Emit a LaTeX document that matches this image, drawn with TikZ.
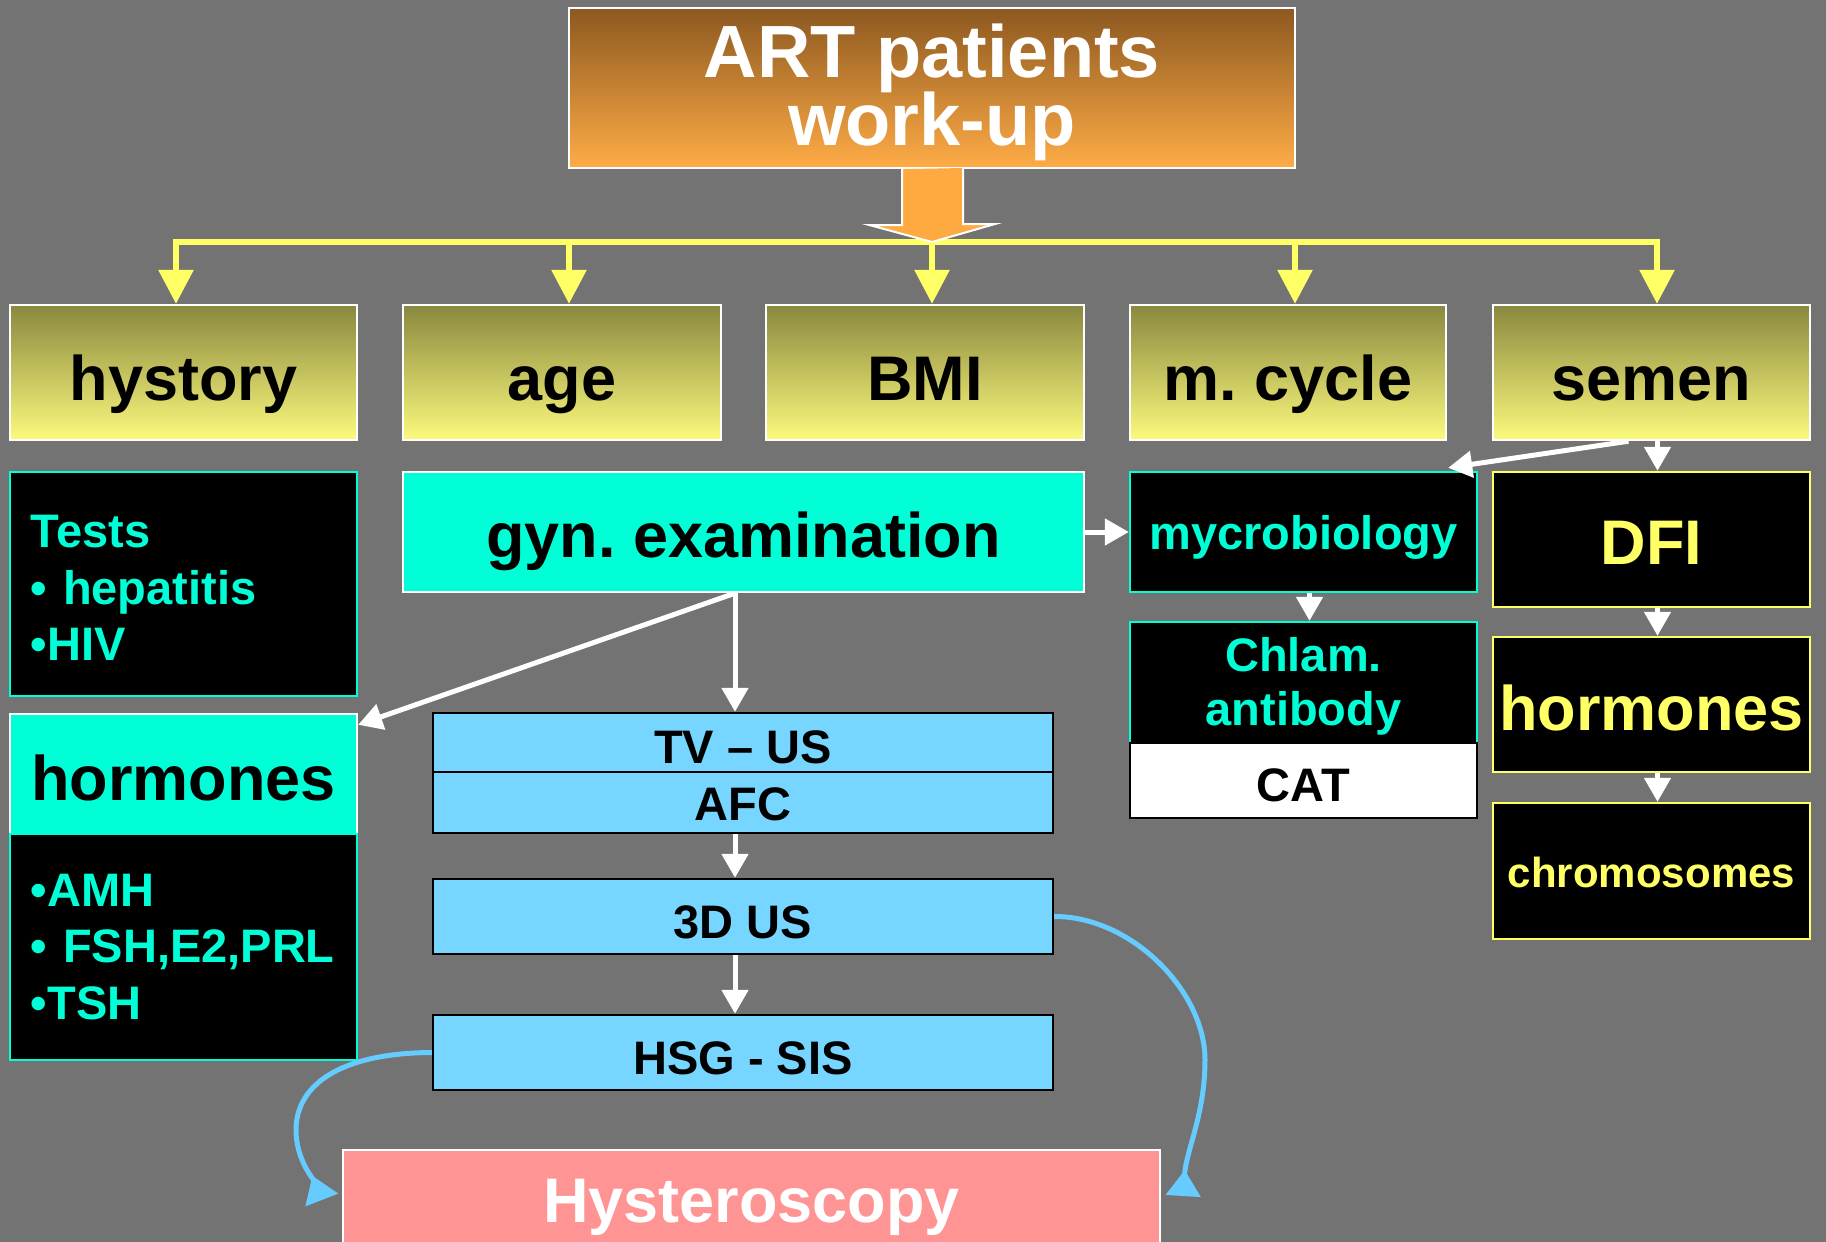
\documentclass[tikz,border=0pt]{standalone}
\usepackage{fontspec}
\setmainfont{Liberation Sans}
\usetikzlibrary{arrows.meta,calc}
\definecolor{bg}{RGB}{115,115,115}
\definecolor{obrown}{RGB}{140,88,32}
\definecolor{oorange}{RGB}{255,172,70}
\definecolor{oarrow}{RGB}{255,170,64}
\definecolor{yolive}{RGB}{138,136,62}
\definecolor{ylight}{RGB}{252,250,125}
\definecolor{yel}{RGB}{255,255,102}
\definecolor{cyanc}{RGB}{0,255,214}
\definecolor{lblue}{RGB}{119,214,255}
\definecolor{pinkc}{RGB}{255,148,148}
\definecolor{cblue}{RGB}{102,204,255}
\newcommand\myfbig{\fontsize{31.5}{36}\selectfont\bfseries\frenchspacing}
\newcommand\myfmed{\fontsize{23.5}{28.25}\selectfont\bfseries\frenchspacing}
\newcommand\myftop{\fontsize{37}{33.75}\selectfont\bfseries\lineskiplimit=-30pt\relax}
\tikzset{
  box/.style={rectangle, inner sep=0pt, line width=1.2pt},
  sz/.style 2 args={minimum width=#1*0.5pt, minimum height=#2*0.5pt},
  th/.style={text height=#1, text depth=0pt},
  topbox/.style={box, draw=white, top color=obrown, bottom color=oorange, text=white, align=center, font=\myftop},
  ybox/.style={box, draw=white, top color=yolive, bottom color=ylight, text=black, font=\myfbig},
  cbox/.style={box, draw=white, fill=cyanc, text=black, font=\myfbig},
  kcbox/.style={box, draw=cyanc, fill=black, text=cyanc, font=\myfmed},
  kybox/.style={box, draw=yel, fill=black, text=yel, font=\myfbig},
  bbox/.style={box, draw=black, fill=lblue, text=black, font=\myfmed},
  wlink/.style={draw=white, line width=2.5pt, -{Triangle[width=13pt,length=12pt]}},
  ylink/.style={draw=yel, line width=3pt, -{Triangle[width=17pt,length=17pt]}},
  blink/.style={draw=cblue, line width=2.5pt, -{Triangle[reversed,width=17pt,length=13pt]}}
}
\begin{document}
\frenchspacing
\begin{tikzpicture}[x=0.5pt,y=-0.5pt]
\clip (0,0) rectangle (1826,1242);
\useasboundingbox (0,0) rectangle (1826,1242);
\fill[bg] (0,0) rectangle (1826,1242);

% top
\node[topbox, sz={726}{160}] (top) at (932,88) {\rule{0pt}{31pt}ART patients\\work-up};

% yellow row
\node[ybox, sz={347}{135}, th=27.5pt] (hist) at (183.5,372.5) {hystory};
\node[ybox, sz={318}{135}, th=27.5pt] (age) at (562,372.5) {age};
\node[ybox, sz={318}{135}, th=27.5pt] (bmi) at (925,372.5) {BMI};
\node[ybox, sz={316}{135}, th=27.5pt] (cyc) at (1288,372.5) {m. cycle};
\node[ybox, sz={317}{135}, th=27.5pt] (sem) at (1651.5,372.5) {semen};

% left column
\node[kcbox, sz={347}{224}, align=left, text width=152.5pt] (tests) at (183.5,584) {\rule{0pt}{20pt}Tests\\• hepatitis\\•HIV};
\node[cbox, sz={347}{120}, th=26pt] (horml) at (183.5,774) {hormones};
\node[kcbox, sz={347}{226}, align=left, text width=152.5pt] (hlist) at (183.5,947) {•AMH\\• FSH,E2,PRL\\•TSH};

% middle
\node[cbox, sz={681}{120}, th=25pt] (gyn) at (743.5,532) {gyn. examination};
\node[bbox, sz={620}{59}, th=21pt] (tv) at (743,742.5) {TV – US};
\node[bbox, sz={620}{61}, th=18pt] (afc) at (743,802.5) {AFC};
\node[bbox, sz={620}{75}, th=21.5pt] (us3d) at (743,916.5) {3D US};
\node[bbox, sz={620}{75}, th=21.5pt] (hsg) at (743,1052.5) {HSG - SIS};
\node[box, draw=white, fill=pinkc, text=white, font=\myfbig, sz={817}{110}, th=17pt] (hyst) at (751.5,1205) {Hysteroscopy};

% right middle
\node[kcbox, sz={347}{120}, th=17pt] (myc) at (1303.5,532) {mycrobiology};
\node[kcbox, sz={347}{121}, align=center, font=\fontsize{23.5}{27}\selectfont\bfseries] (chl) at (1303.5,682.5) {\rule{0pt}{20.6pt}Chlam.\\antibody};
\node[box, draw=black, fill=white, text=black, font=\myfmed, sz={347}{75}, th=20.5pt] (cat) at (1303.5,780.5) {CAT};

% right column
\node[kybox, sz={317}{135}, th=24.5pt] (dfi) at (1651.5,539.5) {DFI};
\node[kybox, sz={317}{135}, th=25.5pt] (hormr) at (1651.5,704.5) {hormones};
\node[kybox, sz={317}{136}, th=16pt, font=\fontsize{21}{24}\selectfont\bfseries] (chrom) at (1651.5,871) {chromosomes};

% yellow bus
\coordinate (bus) at (932,242);
\draw[ylink] (bus) -| ([xshift=-3.75pt]hist.north);
\draw[ylink] (bus) -| ([xshift=3.5pt]age.north);
\draw[ylink] (bus) -- (bus |- bmi.north);
\draw[ylink] (bus) -| ([xshift=3.5pt]cyc.north);
\draw[ylink] (bus) -| ([xshift=2.75pt]sem.north);

% big orange arrow
\filldraw[fill=oarrow, draw=white, line width=1pt, line join=miter]
  ([xshift=-15pt]top.south) -- ++(0,56) -- ++(-32,0) -- (bus) -- ++(63,-18) -- ++(-32,0) -- ++(0,-56);

% white links
\coordinate (g) at ([xshift=-4.25pt]gyn.south);
\draw[wlink] (g) -- ([yshift=-6pt]horml.north east);
\draw[wlink] (g) -- (g |- tv.north);
\draw[wlink] (gyn.east) -- (myc.west);
\draw[wlink] ([xshift=-11.5pt]sem.south) -- ([xshift=-15pt,yshift=1.5pt]myc.north east);
\draw[wlink] ([xshift=3pt]sem.south) -- ([xshift=3pt]dfi.north);
\draw[wlink] ([xshift=3pt]myc.south) -- ([xshift=3pt]chl.north);
\draw[wlink] ([xshift=3pt]dfi.south) -- ([xshift=3pt]hormr.north);
\draw[wlink] ([xshift=3pt]hormr.south) -- ([xshift=3pt]chrom.north);
\draw[wlink] ([xshift=-4pt]afc.south) -- ([xshift=-4pt]us3d.north);
\draw[wlink] ([xshift=-4pt]us3d.south) -- ([xshift=-4pt]hsg.north);

% blue curves
\draw[blink] (us3d.east) .. controls (1130,916) and (1205,990) .. (1205,1060)
  .. controls (1205,1115) and (1186,1150) .. ([xshift=11pt,yshift=4.5pt]hyst.east);
\draw[blink] (hsg.west) .. controls (340,1053) and (296,1085) .. (296,1130)
  .. controls (296,1160) and (314,1180) .. ([xshift=-10pt,yshift=2.5pt]hyst.west);
\end{tikzpicture}
\end{document}
